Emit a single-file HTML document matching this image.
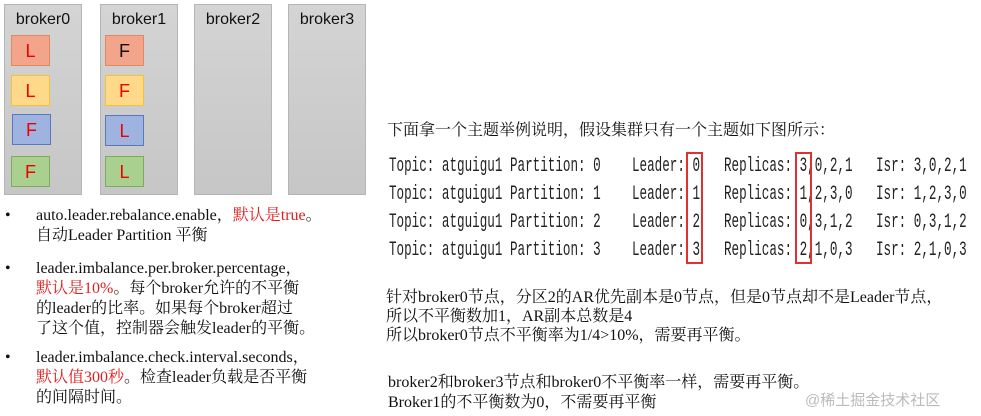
<!DOCTYPE html>
<html><head><meta charset="utf-8"><style>
body{margin:0;width:981px;height:416px;background:#fff;position:relative;overflow:hidden;font-family:"Liberation Serif","Noto Serif CJK SC",serif;}
.b{position:absolute;top:4px;width:78px;height:191px;background:linear-gradient(#d4d4d4,#c6c6c6);border:1px solid #b5b5b5;box-sizing:border-box;}
.b .t{position:absolute;top:6px;left:0;right:0;text-align:center;font:16px "Liberation Sans",sans-serif;color:#111;}
.p{position:absolute;width:39px;height:31px;box-sizing:border-box;text-align:center;font:18px/31px "Liberation Sans",sans-serif;color:#e00;}
.o{background:#f2a58a;border:1px solid #e0895e;}
.y{background:#ffd98a;border:1px solid #f5c13a;}
.bl{background:#9fb3e0;border:1px solid #5a78bf;}
.g{background:#a9d08e;border:1px solid #7aae5e;}
.tx{position:absolute;font-size:16px;color:#111;white-space:nowrap;line-height:20px;}
.r{color:#e02020;}
.c{position:absolute;font:20px "Liberation Mono",monospace;color:#222;white-space:nowrap;transform:scaleX(0.63);transform-origin:left;}
.box{position:absolute;border:2px solid #e03030;box-sizing:border-box;}
.s{position:absolute;font-size:16px;color:#111;white-space:nowrap;}
</style></head><body>
<div class="b" style="left:4px"><div class="t">broker0</div>
<div class="p o" style="left:6px;top:30px">L</div>
<div class="p y" style="left:6px;top:70px">L</div>
<div class="p bl" style="left:7px;top:109px">F</div>
<div class="p g" style="left:6px;top:151px">F</div></div>
<div class="b" style="left:100px"><div class="t">broker1</div>
<div class="p o" style="left:4px;top:30px;color:#111">F</div>
<div class="p y" style="left:4px;top:70px">F</div>
<div class="p bl" style="left:4px;top:110px">L</div>
<div class="p g" style="left:4px;top:151px">L</div></div>
<div class="b" style="left:194px"><div class="t">broker2</div></div>
<div class="b" style="left:288px"><div class="t">broker3</div></div>

<div class="tx" style="left:5px;top:206px">•</div>
<div class="tx" style="left:36px;top:206px">auto.leader.rebalance.enable，<span class="r">默认是true</span>。</div>
<div class="tx" style="left:36px;top:226px">自动Leader Partition 平衡</div>
<div class="tx" style="left:5px;top:259px">•</div>
<div class="tx" style="left:36px;top:259px">leader.imbalance.per.broker.percentage，</div>
<div class="tx" style="left:36px;top:279px"><span class="r">默认是10%</span>。每个broker允许的不平衡</div>
<div class="tx" style="left:36px;top:299px">的leader的比率。如果每个broker超过</div>
<div class="tx" style="left:36px;top:319px">了这个值，控制器会触发leader的平衡。</div>
<div class="tx" style="left:5px;top:348px">•</div>
<div class="tx" style="left:36px;top:348px">leader.imbalance.check.interval.seconds，</div>
<div class="tx" style="left:36px;top:368px"><span class="r">默认值300秒</span>。检查leader负载是否平衡</div>
<div class="tx" style="left:36px;top:388px">的间隔时间。</div>

<div class="s" style="left:387px;top:117px">下面拿一个主题举例说明，假设集群只有一个主题如下图所示：</div>

<div class="c" style="left:389px;top:155px">Topic: atguigu1 Partition: 0</div>
<div class="c" style="left:632px;top:155px">Leader: 0</div>
<div class="c" style="left:724px;top:155px">Replicas: 3,0,2,1</div>
<div class="c" style="left:876px;top:155px">Isr: 3,0,2,1</div>
<div class="c" style="left:389px;top:183px">Topic: atguigu1 Partition: 1</div>
<div class="c" style="left:632px;top:183px">Leader: 1</div>
<div class="c" style="left:724px;top:183px">Replicas: 1,2,3,0</div>
<div class="c" style="left:876px;top:183px">Isr: 1,2,3,0</div>
<div class="c" style="left:389px;top:211px">Topic: atguigu1 Partition: 2</div>
<div class="c" style="left:632px;top:211px">Leader: 2</div>
<div class="c" style="left:724px;top:211px">Replicas: 0,3,1,2</div>
<div class="c" style="left:876px;top:211px">Isr: 0,3,1,2</div>
<div class="c" style="left:389px;top:239px">Topic: atguigu1 Partition: 3</div>
<div class="c" style="left:632px;top:239px">Leader: 3</div>
<div class="c" style="left:724px;top:239px">Replicas: 2,1,0,3</div>
<div class="c" style="left:876px;top:239px">Isr: 2,1,0,3</div>
<div class="box" style="left:686px;top:152px;width:17px;height:112px"></div>
<div class="box" style="left:795px;top:152px;width:17px;height:112px"></div>

<div class="s" style="left:386px;top:284px">针对broker0节点，分区2的AR优先副本是0节点，但是0节点却不是Leader节点，</div>
<div class="s" style="left:386px;top:303px">所以不平衡数加1，AR副本总数是4</div>
<div class="s" style="left:386px;top:322px">所以broker0节点不平衡率为1/4&gt;10%，需要再平衡。</div>
<div class="s" style="left:388px;top:369px">broker2和broker3节点和broker0不平衡率一样，需要再平衡。</div>
<div class="s" style="left:388px;top:389px">Broker1的不平衡数为0，不需要再平衡</div>
<div class="s" style="left:805px;top:389px;font-size:15px;color:#bbb;font-family:'Liberation Sans','Noto Sans CJK SC',sans-serif">@稀土掘金技术社区</div>
</body></html>
